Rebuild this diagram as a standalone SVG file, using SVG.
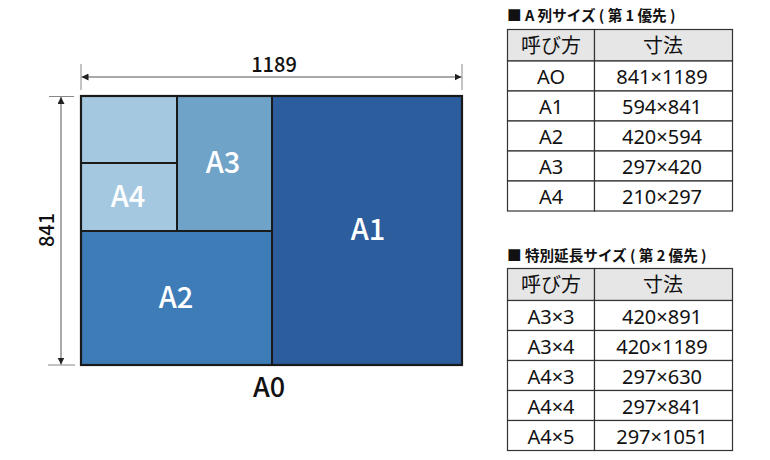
<svg xmlns="http://www.w3.org/2000/svg" width="770" height="460" viewBox="0 0 770 460">
<style>
text{font-family:"Noto Sans CJK JP","Noto Sans",sans-serif}
.sheet{stroke:#1a1a1a;stroke-width:2}
.lbl{fill:#fff;font-size:29px;font-weight:500;text-anchor:middle}
.dim{stroke:#555;stroke-width:1;fill:none}
.ext{stroke:#888;stroke-width:1}
.dimt{fill:#111;font-size:20px;font-weight:500;text-anchor:middle}
.ttl{fill:#111;font-size:14.6px;font-weight:700}
.cell{fill:#fff;stroke:#333;stroke-width:1.2}
.hd{fill:#e6e6e6;stroke:#333;stroke-width:1.2}
.ct{fill:#111;font-size:20px;text-anchor:middle}
.num text{font-family:"Noto Sans","Noto Sans CJK JP",sans-serif}
</style>
<defs>
<marker id="ah" viewBox="0 0 10 10" refX="10" refY="5" markerWidth="7" markerHeight="7" markerUnits="userSpaceOnUse" orient="auto-start-reverse">
<path d="M0,0 L10,5 L0,10 z" fill="#222"/>
</marker>
</defs>

<g id="sheet-A1"><rect class="sheet" x="272" y="96" width="190" height="269" fill="#2c5d9c"/><text class="lbl" x="368" y="240">A1</text></g>
<g id="sheet-A2"><rect class="sheet" x="81" y="231" width="191" height="134" fill="#3e7cb8"/><text class="lbl" x="176" y="308">A2</text></g>
<g id="sheet-A3"><rect class="sheet" x="177" y="96" width="95" height="135" fill="#6fa3c8"/><text class="lbl" x="223" y="173">A3</text></g>
<g id="sheet-A4"><rect class="sheet" x="81" y="163" width="96" height="68" fill="#a5c8e1"/><text class="lbl" x="128" y="207">A4</text></g>
<g id="sheet-A5"><rect class="sheet" x="81" y="96" width="96" height="67" fill="#a5c8e1"/></g>
<g id="sheet-A0"><rect x="81" y="96" width="381" height="269" fill="none" stroke="#1a1a1a" stroke-width="2.2"/><text x="269" y="397" fill="#111" font-size="27" font-weight="500" text-anchor="middle">A0</text></g>

<g id="connectors">
<line class="ext" x1="81" y1="64" x2="81" y2="90"/>
<line class="ext" x1="462" y1="64" x2="462" y2="90" stroke="#aaa"/>
<line class="ext" x1="49" y1="96.5" x2="74" y2="96.5"/>
<line class="ext" x1="48" y1="365" x2="75" y2="365"/>
<line class="dim" x1="81.5" y1="77" x2="461.5" y2="77" marker-start="url(#ah)" marker-end="url(#ah)"/>
<line class="dim" x1="61" y1="97" x2="61" y2="364.5" marker-start="url(#ah)" marker-end="url(#ah)"/>
</g>
<g id="dim-labels">
<text class="dimt" x="274" y="72">1189</text>
<text class="dimt" transform="translate(54 230) rotate(-90)">841</text>
</g>

<g id="table-a-series">
<text class="ttl" x="507" y="21">■ A 列サイズ ( 第 1 優先 )</text>
<rect class="hd" x="507.5" y="29.5" width="87" height="31.5"/>
<rect class="hd" x="594.5" y="29.5" width="138" height="31.5"/>
<text class="ct" x="551" y="53">呼び方</text><text class="ct" x="663" y="53">寸法</text>
<g class="num">
<rect class="cell" x="507.5" y="61" width="87" height="30"/><rect class="cell" x="594.5" y="61" width="138" height="30"/>
<text class="ct" x="551" y="84">AO</text><text class="ct" x="662" y="84">841×1189</text>
<rect class="cell" x="507.5" y="91" width="87" height="30"/><rect class="cell" x="594.5" y="91" width="138" height="30"/>
<text class="ct" x="551" y="114">A1</text><text class="ct" x="662" y="114">594×841</text>
<rect class="cell" x="507.5" y="121" width="87" height="30"/><rect class="cell" x="594.5" y="121" width="138" height="30"/>
<text class="ct" x="551" y="144">A2</text><text class="ct" x="662" y="144">420×594</text>
<rect class="cell" x="507.5" y="151" width="87" height="30"/><rect class="cell" x="594.5" y="151" width="138" height="30"/>
<text class="ct" x="551" y="174">A3</text><text class="ct" x="662" y="174">297×420</text>
<rect class="cell" x="507.5" y="181" width="87" height="30"/><rect class="cell" x="594.5" y="181" width="138" height="30"/>
<text class="ct" x="551" y="204">A4</text><text class="ct" x="662" y="204">210×297</text>
</g>
</g>

<g id="table-special">
<text class="ttl" x="507" y="261">■ 特別延長サイズ ( 第 2 優先 )</text>
<rect class="hd" x="507.5" y="268.5" width="87" height="32"/>
<rect class="hd" x="594.5" y="268.5" width="138" height="32"/>
<text class="ct" x="551" y="292">呼び方</text><text class="ct" x="663" y="292">寸法</text>
<g class="num">
<rect class="cell" x="507.5" y="300.5" width="87" height="30"/><rect class="cell" x="594.5" y="300.5" width="138" height="30"/>
<text class="ct" x="551" y="324">A3×3</text><text class="ct" x="662" y="324">420×891</text>
<rect class="cell" x="507.5" y="330.5" width="87" height="30"/><rect class="cell" x="594.5" y="330.5" width="138" height="30"/>
<text class="ct" x="551" y="354">A3×4</text><text class="ct" x="662" y="354">420×1189</text>
<rect class="cell" x="507.5" y="360.5" width="87" height="30"/><rect class="cell" x="594.5" y="360.5" width="138" height="30"/>
<text class="ct" x="551" y="384">A4×3</text><text class="ct" x="662" y="384">297×630</text>
<rect class="cell" x="507.5" y="390.5" width="87" height="30"/><rect class="cell" x="594.5" y="390.5" width="138" height="30"/>
<text class="ct" x="551" y="414">A4×4</text><text class="ct" x="662" y="414">297×841</text>
<rect class="cell" x="507.5" y="420.5" width="87" height="30"/><rect class="cell" x="594.5" y="420.5" width="138" height="30"/>
<text class="ct" x="551" y="444">A4×5</text><text class="ct" x="662" y="444">297×1051</text>
</g>
</g>
</svg>
